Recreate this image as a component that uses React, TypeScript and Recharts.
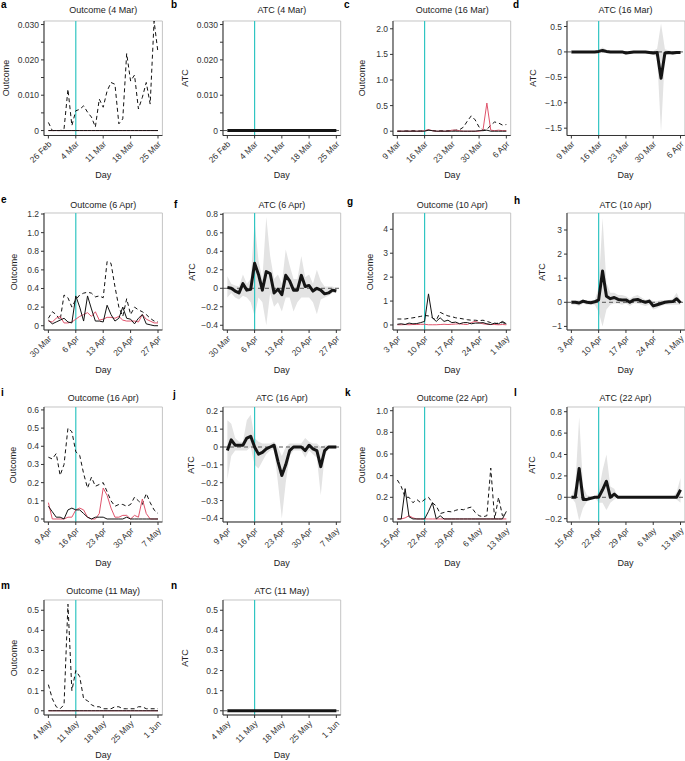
import React from 'react';
import { ComposedChart, Line, Area, XAxis, YAxis, ReferenceLine, ReferenceArea } from 'recharts';

const FONT = '"Liberation Sans", Arial, Helvetica, sans-serif';
const CYAN = '#30c5c2';
const RED = '#df536b';
const BAND = '#e3e3e3';
const AXIS = '#333';
const BOX = '#c4c4c4';

// day index 0..28, intervention on day 7
const days = [0, 1, 2, 3, 4, 5, 6, 7, 8, 9, 10, 11, 12, 13, 14, 15, 16, 17, 18, 19, 20, 21, 22, 23, 24, 25, 26, 27, 28];
const startDay = 7;
const dayTicks = [0, 7, 14, 21, 28];

const aDates = ['26 Feb', '4 Mar', '11 Mar', '18 Mar', '25 Mar'];
const cDates = ['9 Mar', '16 Mar', '23 Mar', '30 Mar', '6 Apr'];
const eDates = ['30 Mar', '6 Apr', '13 Apr', '20 Apr', '27 Apr'];
const gDates = ['3 Apr', '10 Apr', '17 Apr', '24 Apr', '1 May'];
const iDates = ['9 Apr', '16 Apr', '23 Apr', '30 Apr', '7 May'];
const kDates = ['15 Apr', '22 Apr', '29 Apr', '6 May', '13 May'];
const mDates = ['4 May', '11 May', '18 May', '25 May', '1 Jun'];

// outcome panels: dashed, solid black, red
const aDashed = [0.0023, 0, 0, 0, 0.0005, 0.0117, 0.0014, 0.0056, 0.006, 0.007, 0.0052, 0.0038, 0.001, 0.0089, 0.0066, 0.0112, 0.0136, 0.0131, 0.0019, 0.0033, 0.0218, 0.014, 0.0157, 0.0061, 0.0094, 0.0136, 0.0075, 0.031, 0.022];
const aBlack = [0, 0, 0, 0, 0, 0, 0, 0, 0, 0, 0, 0, 0, 0, 0, 0, 0, 0, 0, 0, 0, 0, 0, 0, 0, 0, 0, 0, 0];
const aRed = [0, 0, 0, 0, 0, 0, 0, 0, 0, 0, 0, 0, 0, 0, 0, 0, 0, 0, 0, 0, 0, 0, 0, 0, 0, 0, 0, 0, 0];

const cDashed = [0, 0, 0.005, 0.005, 0.01, 0.005, 0.005, 0.01, 0.02, 0.01, 0.005, 0.01, 0.005, 0.01, 0.015, 0.02, 0.03, 0.08, 0.2, 0.3, 0.22, 0.08, 0.02, 0.03, 0.12, 0.18, 0.16, 0.12, 0.13];
const cBlack = [0, 0, 0, 0, 0, 0, 0, 0, 0.02, 0.01, 0, 0, 0, 0, 0, 0, 0, 0, 0, 0, 0, 0.01, 0.01, 0.02, 0, 0, 0, 0, 0];
const cRed = [0, 0, 0, 0, 0, 0, 0, 0.01, 0.03, 0.01, 0, 0, 0, 0, 0.02, 0.02, 0.01, 0, 0, 0, 0, 0, 0.02, 0.55, 0.02, 0.01, 0.02, 0.01, 0.01];

const eDashed = [0.08, 0.15, 0.12, 0.06, 0.33, 0.3, 0.2, 0.28, 0.33, 0.35, 0.36, 0.35, 0.31, 0.32, 0.3, 0.69, 0.67, 0.42, 0.2, 0.1, 0.29, 0.12, 0.2, 0.17, 0.15, 0.12, 0.08, 0.05, 0.04];
const eBlack = [0.06, 0.02, 0.04, 0.06, 0.08, 0.04, 0.03, 0.32, 0.2, 0.05, 0.32, 0.18, 0.05, 0.05, 0.04, 0.22, 0.12, 0.05, 0.08, 0.2, 0.08, 0.07, 0.02, 0.08, 0.12, 0.02, 0.01, 0, 0];
const eRed = [0.05, 0.04, 0.08, 0.1, 0.03, 0.03, 0.04, 0.07, 0.1, 0.12, 0.14, 0.1, 0.15, 0.06, 0.07, 0.09, 0.09, 0.08, 0.1, 0.06, 0.05, 0.05, 0.05, 0.04, 0.12, 0.07, 0.05, 0.03, 0.03];

const gDashed = [0.25, 0.25, 0.25, 0.28, 0.3, 0.33, 0.36, 0.4, 0.38, 0.3, 0.2, 0.53, 0.45, 0.38, 0.35, 0.3, 0.28, 0.25, 0.22, 0.2, 0.2, 0.18, 0.2, 0.15, 0.1, 0.05, 0.08, 0.1, 0.05];
const gBlack = [0.03, 0.05, 0.02, 0.08, 0.05, 0.06, 0.1, 0.15, 1.3, 0.3, 0.15, 0.3, 0.15, 0.2, 0.1, 0.12, 0.05, 0.1, 0.1, 0.05, 0.08, 0.08, 0.1, 0.05, 0.02, 0.08, 0.05, 0.15, 0.05];
const gRed = [0.01, 0.01, 0.02, 0.01, 0.02, 0.02, 0.03, 0.03, 0.01, 0.01, 0.01, 0.02, 0.03, 0.02, 0.03, 0.04, 0.05, 0.03, 0.02, 0.1, 0.15, 0.1, 0.05, 0.03, 0.02, 0.02, 0.01, 0.02, 0.01];

const iDashed = [0.34, 0.33, 0.36, 0.24, 0.3, 0.5, 0.48, 0.37, 0.35, 0.25, 0.17, 0.23, 0.18, 0.19, 0.2, 0.15, 0.1, 0.07, 0.08, 0.08, 0.07, 0.08, 0.12, 0.1, 0.08, 0.14, 0.09, 0.05, 0.03];
const iBlack = [0.07, 0.04, 0.01, 0.01, 0, 0.05, 0.06, 0.05, 0.05, 0.03, 0.01, 0, 0.01, 0.01, 0.01, 0, 0, 0, 0, 0, 0.01, 0, 0, 0, 0, 0, 0, 0, 0];
const iRed = [0.09, 0, 0, 0, 0, 0.01, 0.01, 0.05, 0.06, 0.05, 0.01, 0, 0, 0.03, 0.17, 0.13, 0.06, 0.01, 0.01, 0.02, 0.02, 0, 0.02, 0.01, 0.11, 0.03, 0, 0, 0];

const kDashed = [0.36, 0.3, 0.2, 0.2, 0.15, 0.18, 0.15, 0.18, 0.2, 0.15, 0.12, 0.05, 0.06, 0.07, 0.065, 0.08, 0.09, 0.085, 0.1, 0.11, 0.06, 0.03, 0.02, 0.03, 0.47, 0, 0.2, 0.03, 0.05];
const kBlack = [0, 0, 0.28, 0.02, 0, 0, 0, 0, 0.07, 0.15, 0, 0.03, 0, 0, 0, 0, 0, 0, 0, 0, 0, 0, 0, 0, 0, 0, 0, 0, 0.07];
const kRed = [0, 0, 0.01, 0.03, 0.01, 0, 0, 0, 0, 0, 0, 0, 0, 0, 0, 0, 0, 0, 0, 0, 0, 0, 0, 0, 0, 0, 0, 0, 0];

const mDashed = [0.13, 0.06, 0.02, 0.01, 0.03, 0.53, 0.1, 0.2, 0.17, 0.06, 0.05, 0.03, 0.02, 0.02, 0.01, 0.01, 0.01, 0.02, 0.02, 0.01, 0.01, 0.01, 0.01, 0.02, 0.02, 0.01, 0.01, 0.01, 0.01];
const mBlack = [0, 0, 0, 0, 0, 0, 0, 0, 0, 0, 0, 0, 0, 0, 0, 0, 0, 0, 0, 0, 0, 0, 0, 0, 0, 0, 0, 0, 0];
const mRed = [0, 0, 0, 0, 0, 0, 0, 0, 0, 0, 0, 0, 0, 0, 0, 0, 0, 0, 0, 0, 0, 0, 0, 0, 0, 0, 0, 0, 0];

// ATC panels: estimate, lower and upper band
const bAtc = [0, 0, 0, 0, 0, 0, 0, 0, 0, 0, 0, 0, 0, 0, 0, 0, 0, 0, 0, 0, 0, 0, 0, 0, 0, 0, 0, 0, 0];
const bLo = [0, 0, 0, 0, 0, 0, 0, 0, 0, 0, 0, 0, 0, 0, 0, 0, 0, 0, 0, 0, 0, 0, 0, 0, 0, 0, 0, 0, 0];
const bHi = [0, 0, 0, 0, 0, 0, 0, 0, 0, 0, 0, 0, 0, 0, 0, 0, 0, 0, 0, 0, 0, 0, 0, 0, 0, 0, 0, 0, 0];

const dAtc = [0, 0, 0, 0, 0, 0, 0, 0.01, 0.03, 0.01, 0, 0, 0, 0, -0.02, -0.01, 0, 0, 0, 0, -0.01, -0.02, -0.01, -0.52, -0.02, -0.01, -0.02, -0.01, -0.01];
const dLo = [-0.02, -0.02, -0.02, -0.02, -0.02, -0.02, -0.02, -0.03, -0.02, -0.02, -0.02, -0.02, -0.02, -0.02, -0.05, -0.03, -0.02, -0.02, -0.02, -0.03, -0.04, -0.05, -0.1, -1.58, -0.08, -0.04, -0.05, -0.03, -0.03];
const dHi = [0.02, 0.02, 0.02, 0.02, 0.02, 0.02, 0.02, 0.04, 0.09, 0.04, 0.02, 0.02, 0.02, 0.02, 0.02, 0.02, 0.02, 0.02, 0.02, 0.02, 0.02, 0.02, 0.06, 0.56, 0.05, 0.03, 0.02, 0.02, 0.02];

const fAtc = [0.01, 0, -0.03, -0.05, 0.05, -0.02, -0.01, 0.27, 0.15, -0.02, 0.18, 0.16, -0.05, -0.01, -0.07, 0.14, 0.08, -0.02, -0.02, 0.14, 0.02, 0.03, -0.03, 0, -0.02, -0.06, -0.05, -0.02, -0.03];
const fLo = [-0.1, -0.05, -0.1, -0.12, -0.08, -0.1, -0.15, -0.3, -0.1, -0.15, -0.4, -0.05, -0.2, -0.15, -0.25, -0.1, -0.1, -0.25, -0.15, -0.1, -0.1, -0.1, -0.15, -0.28, -0.12, -0.1, -0.08, -0.05, -0.05];
const fHi = [0.13, 0.05, 0.03, 0.02, 0.15, 0.05, 0.1, 0.72, 0.3, 0.1, 0.77, 0.35, 0.1, 0.15, 0.05, 0.42, 0.25, 0.1, 0.1, 0.35, 0.12, 0.15, 0.05, 0.2, 0.08, 0.02, 0.02, 0.02, 0];

const hAtc = [0, 0, -0.03, 0.05, 0, -0.02, 0.02, 0.1, 1.3, 0.25, 0.15, 0.2, 0.12, 0.1, 0.1, 0, 0.1, 0.12, 0.05, 0, 0.05, -0.15, -0.1, -0.05, 0, 0.02, 0.03, 0.15, -0.02];
const hLo = [-0.1, -0.1, -0.15, -0.05, -0.1, -0.1, -0.1, -0.4, -1.0, -0.3, -0.1, -0.05, -0.05, -0.1, -0.05, -0.15, -0.05, -0.05, -0.1, -0.15, -0.1, -0.3, -0.25, -0.15, -0.1, -0.1, -0.1, -0.1, -0.1];
const hHi = [0.1, 0.1, 0.1, 0.1, 0.1, 0.1, 0.1, 0.6, 3.5, 0.8, 0.4, 0.4, 0.3, 0.3, 0.25, 0.15, 0.25, 0.3, 0.2, 0.1, 0.15, 0.05, 0.05, 0.1, 0.1, 0.1, 0.15, 0.4, 0.05];

const jAtc = [-0.02, 0.04, 0.01, 0.01, 0.01, 0.05, 0.06, 0, -0.04, -0.03, -0.01, 0, 0.01, -0.08, -0.16, -0.1, -0.02, 0, 0, 0, -0.02, 0.01, -0.01, -0.02, -0.11, -0.02, 0, 0, 0];
const jLo = [-0.18, -0.05, -0.02, -0.02, -0.02, -0.02, 0, -0.1, -0.12, -0.08, -0.04, -0.02, -0.01, -0.2, -0.4, -0.2, -0.05, -0.02, -0.02, -0.02, -0.06, -0.02, -0.04, -0.06, -0.27, -0.05, -0.01, -0.01, -0.01];
const jHi = [0.15, 0.13, 0.05, 0.03, 0.03, 0.15, 0.18, 0.05, 0.03, 0.02, 0.02, 0.02, 0.03, 0, -0.05, 0, 0.02, 0.02, 0.02, 0.02, 0.05, 0.03, 0.02, 0.02, 0, 0.01, 0.01, 0.01, 0.01];

const lAtc = [0, 0, 0.27, -0.02, -0.02, -0.01, 0, 0, 0.07, 0.15, 0, 0.03, 0, 0, 0, 0, 0, 0, 0, 0, 0, 0, 0, 0, 0, 0, 0, 0, 0.07];
const lLo = [0, -0.05, -0.22, -0.1, -0.04, -0.02, 0, -0.05, -0.05, -0.12, -0.05, -0.02, 0, 0, 0, 0, 0, 0, 0, 0, 0, 0, 0, 0, 0, 0, 0, -0.02, -0.05];
const lHi = [0, 0.1, 0.75, 0.1, 0.02, 0.01, 0, 0.05, 0.25, 0.4, 0.1, 0.08, 0, 0, 0, 0, 0, 0, 0, 0, 0, 0, 0, 0, 0, 0, 0, 0.05, 0.18];

const nAtc = [0, 0, 0, 0, 0, 0, 0, 0, 0, 0, 0, 0, 0, 0, 0, 0, 0, 0, 0, 0, 0, 0, 0, 0, 0, 0, 0, 0, 0];
const nLo = [0, 0, 0, 0, 0, 0, 0, 0, 0, 0, 0, 0, 0, 0, 0, 0, 0, 0, 0, 0, 0, 0, 0, 0, 0, 0, 0, 0, 0];
const nHi = [0, 0, 0, 0, 0, 0, 0, 0, 0, 0, 0, 0, 0, 0, 0, 0, 0, 0, 0, 0, 0, 0, 0, 0, 0, 0, 0, 0, 0];

// plot box of each column / row in page pixels
const COLS = [
  { L: 44, R: 162.4 },
  { L: 223, R: 340.7 },
  { L: 393.3, R: 511 },
  { L: 566.6, R: 684.5 },
];
const ROWS = [
  { T: 20.5, B: 135, titleY: 10, dayY: 175 },
  { T: 213, B: 330, titleY: 205, dayY: 370 },
  { T: 407, B: 522, titleY: 398, dayY: 563 },
  { T: 600, B: 715, titleY: 591, dayY: 755 },
];
const XDOM: [number, number] = [-1.12, 29.12];

const fmt = (dec: number) => (v: number) =>
  Math.abs(v) < 1e-9 ? '0' : (v < 0 ? '\u2212' : '') + Math.abs(v).toFixed(dec);
const fmtSmall = (v: number) =>
  Math.abs(v) < 1e-9 ? '0' : Math.round(v * 1000) % 10 === 0 ? v.toFixed(3) : '';

type Spec = {
  letter: string; title: string; ylab: string; col: number; row: number;
  dates: string[]; yDomain: [number, number]; yTicks: number[]; yFmt: (v: number) => string;
  ylabX: number; letterX: number; letterY: number;
  dashed?: number[]; black?: number[]; red?: number[];
  atc?: number[]; lo?: number[]; hi?: number[];
};

const smallTicks = [0, 0.005, 0.01, 0.015, 0.02, 0.025, 0.03];

const panels: Spec[] = [
  { letter: 'a', title: 'Outcome (4 Mar)', ylab: 'Outcome', col: 0, row: 0, dates: aDates, yDomain: [-0.0014, 0.031], yTicks: smallTicks, yFmt: fmtSmall, ylabX: 6, letterX: 1, letterY: 4.5, dashed: aDashed, black: aBlack, red: aRed },
  { letter: 'b', title: 'ATC (4 Mar)', ylab: 'ATC', col: 1, row: 0, dates: aDates, yDomain: [-0.0014, 0.031], yTicks: smallTicks, yFmt: fmtSmall, ylabX: 185, letterX: 171, letterY: 4.5, atc: bAtc, lo: bLo, hi: bHi },
  { letter: 'c', title: 'Outcome (16 Mar)', ylab: 'Outcome', col: 2, row: 0, dates: cDates, yDomain: [-0.084, 2.152], yTicks: [0, 0.5, 1, 1.5, 2], yFmt: fmt(1), ylabX: 362, letterX: 344, letterY: 5, dashed: cDashed, black: cBlack, red: cRed },
  { letter: 'd', title: 'ATC (16 Mar)', ylab: 'ATC', col: 3, row: 0, dates: cDates, yDomain: [-1.644, 0.608], yTicks: [-1.5, -1, -0.5, 0, 0.5], yFmt: fmt(1), ylabX: 533, letterX: 513, letterY: 4.5, atc: dAtc, lo: dLo, hi: dHi },
  { letter: 'e', title: 'Outcome (6 Apr)', ylab: 'Outcome', col: 0, row: 1, dates: eDates, yDomain: [-0.046, 1.211], yTicks: [0, 0.2, 0.4, 0.6, 0.8, 1, 1.2], yFmt: fmt(1), ylabX: 14, letterX: 1, letterY: 200, dashed: eDashed, black: eBlack, red: eRed },
  { letter: 'f', title: 'ATC (6 Apr)', ylab: 'ATC', col: 1, row: 1, dates: eDates, yDomain: [-0.451, 0.814], yTicks: [-0.4, -0.2, 0, 0.2, 0.4, 0.6, 0.8], yFmt: fmt(1), ylabX: 192, letterX: 174, letterY: 205, atc: fAtc, lo: fLo, hi: fHi },
  { letter: 'g', title: 'Outcome (10 Apr)', ylab: 'Outcome', col: 2, row: 1, dates: gDates, yDomain: [-0.209, 4.68], yTicks: [0, 1, 2, 3, 4], yFmt: fmt(0), ylabX: 370, letterX: 347, letterY: 202, dashed: gDashed, black: gBlack, red: gRed },
  { letter: 'h', title: 'ATC (10 Apr)', ylab: 'ATC', col: 3, row: 1, dates: gDates, yDomain: [-1.149, 3.705], yTicks: [-1, 0, 1, 2, 3], yFmt: fmt(0), ylabX: 542, letterX: 514, letterY: 201, atc: hAtc, lo: hLo, hi: hHi },
  { letter: 'i', title: 'Outcome (16 Apr)', ylab: 'Outcome', col: 0, row: 2, dates: iDates, yDomain: [-0.0165, 0.616], yTicks: [0, 0.1, 0.2, 0.3, 0.4, 0.5, 0.6], yFmt: fmt(1), ylabX: 13, letterX: 1, letterY: 393, dashed: iDashed, black: iBlack, red: iRed },
  { letter: 'j', title: 'ATC (16 Apr)', ylab: 'ATC', col: 1, row: 2, dates: iDates, yDomain: [-0.42, 0.224], yTicks: [-0.4, -0.3, -0.2, -0.1, 0, 0.1, 0.2], yFmt: fmt(1), ylabX: 191, letterX: 173, letterY: 395, atc: jAtc, lo: jLo, hi: jHi },
  { letter: 'k', title: 'Outcome (22 Apr)', ylab: 'Outcome', col: 2, row: 2, dates: kDates, yDomain: [-0.028, 1.034], yTicks: [0, 0.2, 0.4, 0.6, 0.8, 1], yFmt: fmt(1), ylabX: 362, letterX: 345, letterY: 393, dashed: kDashed, black: kBlack, red: kRed },
  { letter: 'l', title: 'ATC (22 Apr)', ylab: 'ATC', col: 3, row: 2, dates: kDates, yDomain: [-0.231, 0.844], yTicks: [-0.2, 0, 0.2, 0.4, 0.6, 0.8], yFmt: fmt(1), ylabX: 532, letterX: 514, letterY: 393, atc: lAtc, lo: lLo, hi: lHi },
  { letter: 'm', title: 'Outcome (11 May)', ylab: 'Outcome', col: 0, row: 3, dates: mDates, yDomain: [-0.021, 0.551], yTicks: [0, 0.1, 0.2, 0.3, 0.4, 0.5], yFmt: fmt(1), ylabX: 14, letterX: 1, letterY: 586, dashed: mDashed, black: mBlack, red: mRed },
  { letter: 'n', title: 'ATC (11 May)', ylab: 'ATC', col: 1, row: 3, dates: mDates, yDomain: [-0.021, 0.551], yTicks: [0, 0.1, 0.2, 0.3, 0.4, 0.5], yFmt: fmt(1), ylabX: 185, letterX: 171, letterY: 586, atc: nAtc, lo: nLo, hi: nHi },
];

const DateTick = ({ x, y, payload, dates }: any) => (
  <text
    x={x + 1.5}
    y={y + 2}
    transform={`rotate(-45 ${x + 1.5} ${y + 2})`}
    textAnchor="end"
    dominantBaseline="central"
    fontSize={8.5}
    fontFamily={FONT}
    fill={AXIS}
  >
    {dates[Math.round(payload.value / 7)]}
  </text>
);

const Panel = ({ p }: { p: Spec }) => {
  const col = COLS[p.col];
  const row = ROWS[p.row];
  const yW = 40;
  const xH = 46;
  const mt = 3;
  const mr = 2;
  const w = yW + (col.R - col.L) + mr;
  const h = mt + (row.B - row.T) + xH;
  const isAtc = !!p.atc;
  const data = days.map((d, i) =>
    isAtc
      ? { day: d, atc: p.atc![i], band: [p.lo![i], p.hi![i]] }
      : { day: d, dashed: p.dashed![i], black: p.black![i], red: p.red![i] }
  );
  const textStyle: React.CSSProperties = { position: 'absolute', fontSize: 9, color: '#222', whiteSpace: 'nowrap', lineHeight: '12px' };
  return (
    <>
      <div style={{ position: 'absolute', left: col.L - yW, top: row.T - mt }}>
        <ComposedChart width={w} height={h} data={data} margin={{ top: mt, right: mr, bottom: 0, left: 0 }}>
          <XAxis
            dataKey="day"
            type="number"
            domain={XDOM}
            ticks={dayTicks}
            interval={0}
            allowDataOverflow
            height={xH}
            tickSize={3}
            stroke={AXIS}
            tick={<DateTick dates={p.dates} />}
          />
          <YAxis
            type="number"
            domain={p.yDomain}
            ticks={p.yTicks}
            interval={0}
            allowDataOverflow
            width={yW}
            tickSize={3}
            tickMargin={2}
            stroke={AXIS}
            tickFormatter={p.yFmt}
            tick={{ fontSize: 8.5, fill: AXIS, fontFamily: FONT }}
          />
          <ReferenceArea x1={XDOM[0]} x2={XDOM[1]} y1={p.yDomain[0]} y2={p.yDomain[1]} fill="none" stroke={BOX} strokeWidth={1} ifOverflow="visible" />
          {isAtc && (
            <Area dataKey="band" type="linear" stroke="none" fill={BAND} fillOpacity={1} isAnimationActive={false} activeDot={false} />
          )}
          {isAtc && <ReferenceLine y={0} stroke="#555" strokeDasharray="4 3" strokeWidth={1} />}
          <ReferenceLine x={startDay} stroke={CYAN} strokeWidth={1.2} />
          {!isAtc && (
            <Line dataKey="dashed" type="linear" stroke="#111" strokeWidth={1} strokeDasharray="4 3" dot={false} isAnimationActive={false} />
          )}
          {!isAtc && <Line dataKey="red" type="linear" stroke={RED} strokeWidth={1} dot={false} isAnimationActive={false} />}
          {!isAtc && <Line dataKey="black" type="linear" stroke="#111" strokeWidth={1} dot={false} isAnimationActive={false} />}
          {isAtc && (
            <Line dataKey="atc" type="linear" stroke="#151515" strokeWidth={3} strokeLinejoin="round" dot={false} isAnimationActive={false} />
          )}
        </ComposedChart>
      </div>
      <div style={{ ...textStyle, left: col.L, width: col.R - col.L, textAlign: 'center', top: row.titleY - 6 }}>{p.title}</div>
      <div style={{ ...textStyle, left: col.L, width: col.R - col.L, textAlign: 'center', top: row.dayY - 6 }}>Day</div>
      <div
        style={{
          ...textStyle,
          left: p.ylabX,
          top: (row.T + row.B) / 2,
          transform: 'translate(-50%, -50%) rotate(-90deg)',
        }}
      >
        {p.ylab}
      </div>
      <div style={{ ...textStyle, left: p.letterX, top: p.letterY - 6, fontSize: 10, fontWeight: 'bold', color: '#000' }}>{p.letter}</div>
    </>
  );
};

export default function App() {
  return (
    <div style={{ position: 'absolute', left: 0, top: 0, width: 685, height: 761, background: '#fff', fontFamily: FONT, overflow: 'hidden' }}>
      {panels.map((p) => (
        <Panel key={p.letter} p={p} />
      ))}
    </div>
  );
}
